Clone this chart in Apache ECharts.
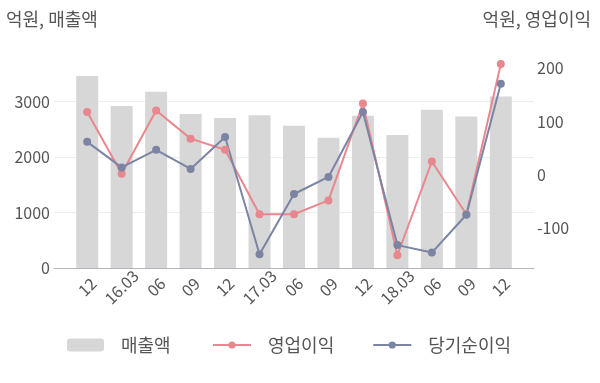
<!DOCTYPE html>
<html><head><meta charset="utf-8">
<script src="https://cdn.jsdelivr.net/npm/echarts@6/dist/echarts.min.js"></script>
<style>html,body{margin:0;padding:0;background:#fff}#c{width:600px;height:383px}</style>
</head><body><div id="c"></div>
<script>
const categories = ['12','16.03','06','09','12','17.03','06','09','12','18.03','06','09','12'];
const sales = [3459, 2919, 3177, 2775, 2703, 2751, 2562, 2346, 2743, 2395, 2851, 2730, 3090];
const opProfit = [118, 2, 121, 68, 47, -74, -74, -48, 134, -151, 25, -74, 208];
const netProfit = [62, 14, 47, 11, 71, -149, -36, -4, 118, -132, -146, -75, 171];
const leftTicks = [0, 1000, 2000, 3000];
const rightTicks = [-100, 0, 100, 200];
const seriesNames = ['매출액', '영업이익', '당기순이익'];
const axisTitles = ['억원, 매출액', '억원, 영업이익'];

const FONT = "'Noto Sans CJK KR', 'Noto Sans', sans-serif";
const TXT = '#555555';
const idx = categories.map((_, i) => i);
const legendText = {fontSize: 18, color: TXT, fontFamily: FONT, padding: [0, 0, 0, 12]};
const chart = echarts.init(document.getElementById('c'), null, {renderer: 'canvas'});
chart.setOption({
  animation: false,
  textStyle: {fontFamily: FONT},
  title: [
    {text: axisTitles[0], left: 6, top: 10, padding: 0, textStyle: {fontSize: 18, fontWeight: 'normal', color: TXT, fontFamily: FONT}},
    {text: axisTitles[1], right: 9, top: 10, padding: 0, textStyle: {fontSize: 18, fontWeight: 'normal', color: TXT, fontFamily: FONT}}
  ],
  grid: {left: 54, right: 66, top: 46, bottom: 115, containLabel: false, outerBoundsMode: 'none'},
  legend: [
    {
      left: 67, top: 336, padding: 0, itemWidth: 37, itemHeight: 13,
      textStyle: legendText, data: [seriesNames[0]]
    },
    {
      left: 212, top: 336, padding: 0, itemWidth: 38, itemHeight: 9, itemGap: 38,
      textStyle: legendText, data: [seriesNames[1], seriesNames[2]]
    }
  ],
  xAxis: {
    type: 'value', min: -0.963, max: 12.963,
    axisLine: {show: true, lineStyle: {color: '#b4b4bc', width: 1}},
    axisTick: {show: false},
    splitLine: {show: false},
    axisLabel: {
      customValues: idx,
      formatter: v => categories[Math.round(v)],
      rotate: 45, align: 'center', verticalAlign: 'middle', margin: 19,
      fontSize: 16, color: TXT, fontFamily: FONT
    }
  },
  yAxis: [
    {
      type: 'value', min: 0, max: 4000, interval: 1000, position: 'left',
      axisLine: {show: false}, axisTick: {show: false},
      axisLabel: {customValues: leftTicks, formatter: v => String(v), fontSize: 16, color: TXT, margin: 4, fontFamily: FONT},
      splitLine: {show: true, lineStyle: {color: ['#eeeeee', '#eeeeee', '#eeeeee', '#eeeeee', 'rgba(0,0,0,0)'], width: 1}}
    },
    {
      type: 'value', min: -175, max: 242, position: 'right',
      axisLine: {show: false}, axisTick: {show: false}, splitLine: {show: false},
      axisLabel: {customValues: rightTicks, formatter: v => String(v), fontSize: 16, color: TXT, margin: 3, fontFamily: FONT}
    }
  ],
  series: [
    {
      name: seriesNames[0], type: 'bar', yAxisIndex: 0, barWidth: 22,
      itemStyle: {color: '#d7d7d7'},
      data: sales.map((v, i) => [i, v])
    },
    {
      name: seriesNames[1], type: 'line', yAxisIndex: 1,
      symbol: 'circle', symbolSize: 8,
      lineStyle: {color: '#e8878e', width: 2}, itemStyle: {color: '#e8878e'},
      data: opProfit.map((v, i) => [i, v])
    },
    {
      name: seriesNames[2], type: 'line', yAxisIndex: 1,
      symbol: 'circle', symbolSize: 8,
      lineStyle: {color: '#7c84a4', width: 2}, itemStyle: {color: '#7c84a4'},
      data: netProfit.map((v, i) => [i, v])
    }
  ]
});
</script></body></html>
